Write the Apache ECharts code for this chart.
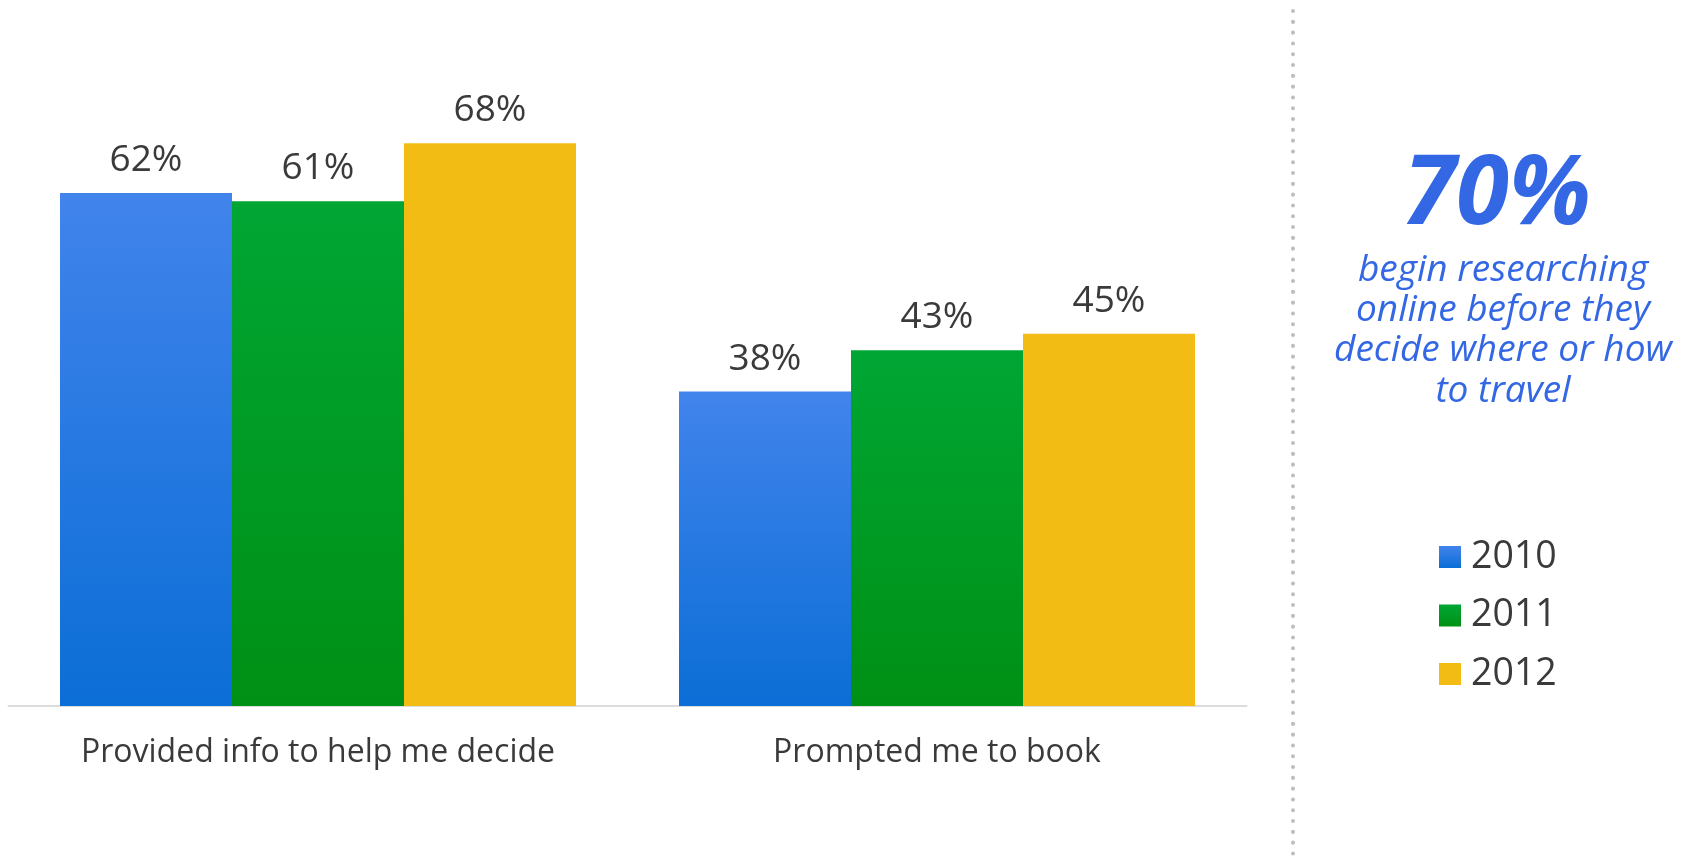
<!DOCTYPE html>
<html>
<head>
<meta charset="utf-8">
<style>
  html, body { margin: 0; padding: 0; background: #ffffff; }
  #chart { width: 1690px; height: 858px; }
</style>
<script src="https://cdn.jsdelivr.net/npm/echarts@6/dist/echarts.min.js"></script>
</head>
<body>
<div id="chart"></div>
<script>
// Categories and yearly shares (percent of respondents)
const categories = ['Provided info to help me decide', 'Prompted me to book'];
const years = ['2010', '2011', '2012'];
const values2010 = [62, 38];
const values2011 = [61, 43];
const values2012 = [68, 45];

// Side note text
const headline = '70%';
const noteLines = ['begin researching', 'online before they', 'decide where or how', 'to travel'];

const FONT = "'Open Sans', 'Noto Sans', sans-serif";

function vGrad(top, bottom) {
  return new echarts.graphic.LinearGradient(0, 0, 0, 1, [
    { offset: 0, color: top },
    { offset: 1, color: bottom }
  ]);
}

const palette = [
  vGrad('#4184ec', '#0b6ed6'),
  vGrad('#00a634', '#009015'),
  '#f2bc14'
];

const seriesValues = [values2010, values2011, values2012];

const chart = echarts.init(document.getElementById('chart'));

const series = years.map((y, i) => ({
  name: y,
  type: 'bar',
  data: seriesValues[i],
  barWidth: 172,
  barGap: '0%',
  itemStyle: { color: palette[i] },
  label: {
    show: true,
    position: 'top',
    distance: 14,
    formatter: '{c}%',
    fontFamily: FONT,
    fontSize: 37,
    color: '#3a3a3a'
  },
  emphasis: { disabled: true }
}));

const graphics = [
  {
    type: 'line',
    shape: { x1: 1293, y1: 11, x2: 1293, y2: 858 },
    style: { stroke: '#bdbdbd', lineWidth: 4, lineCap: 'round', lineDash: [0.1, 10.7] },
    silent: true
  },
  {
    type: 'text',
    x: 1497,
    y: 197,
    style: {
      text: headline,
      fontFamily: FONT,
      fontSize: 96,
      fontWeight: 'bold',
      fontStyle: 'italic',
      fill: '#3367e3',
      align: 'center',
      verticalAlign: 'middle'
    }
  }
];

noteLines.forEach((line, i) => {
  graphics.push({
    type: 'text',
    x: 1503,
    y: 270.5 + i * 40.2,
    style: {
      text: line,
      fontFamily: FONT,
      fontSize: 37,
      fontStyle: 'italic',
      fill: '#3367e3',
      align: 'center',
      verticalAlign: 'middle'
    }
  });
});

chart.setOption({
  animation: false,
  backgroundColor: '#ffffff',
  grid: { left: 8.5, width: 1238, top: 44, bottom: 152 },
  legend: {
    orient: 'vertical',
    left: 1434,
    top: 533,
    itemWidth: 22,
    itemHeight: 22,
    itemGap: 20.5,
    icon: 'rect',
    selectedMode: false,
    textStyle: { fontFamily: FONT, fontSize: 37.5, lineHeight: 36.5, color: '#3a3a3a', padding: [0, 0, 0, 5] },
    data: years
  },
  xAxis: {
    type: 'category',
    data: categories,
    axisLine: { show: true, lineStyle: { color: '#dcdcdc', width: 2 } },
    axisTick: { show: false },
    axisLabel: { margin: 31, fontFamily: FONT, fontSize: 32, color: '#3a3a3a' },
    splitLine: { show: false }
  },
  yAxis: {
    type: 'value',
    min: 0,
    max: 80,
    show: false
  },
  series: series,
  graphic: graphics
});
</script>
</body>
</html>
